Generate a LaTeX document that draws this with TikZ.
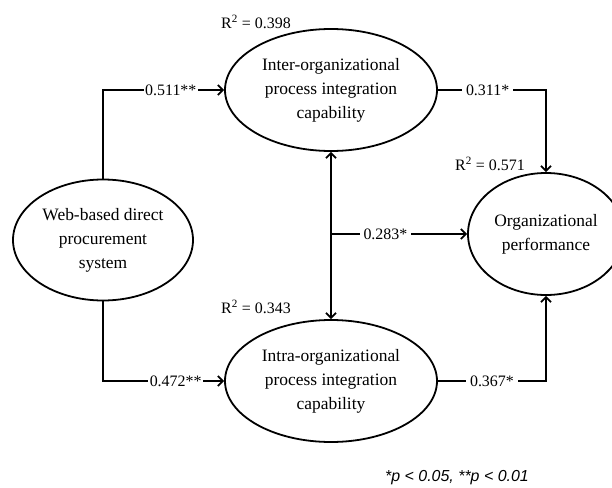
\documentclass[tikz,border=0pt]{standalone}
\usepackage{fontspec}
\setmainfont{Liberation Serif}
\newfontfamily\notefont{Liberation Sans}
\usetikzlibrary{shapes.geometric,arrows.meta}
\tikzset{
  construct/.style={draw, ellipse, line width=1.8bp, inner sep=0pt, align=center,
    font=\fontsize{17.5}{24}\selectfont},
  link/.style={line width=1.8bp, -{Straight Barb[length=5bp,width=10bp]}},
  coef/.style={fill=white, inner sep=4bp, font=\fontsize{16}{19}\selectfont},
  rsq/.style={font=\fontsize{16}{19}\selectfont}
}

\begin{document}
\begin{tikzpicture}[x=10bp,y=10bp]
    \useasboundingbox (0,0) rectangle (61.2,-48.8);
    \node[construct, minimum width=180bp, minimum height=121bp] (web) at (10.3,-24.0) {Web-based direct\\procurement\\system} ;
    \node[construct, minimum width=212bp, minimum height=122bp] (inter) at (33.1,-9.0) {Inter-organizational\\process integration\\capability} ;
    \node[construct, minimum width=212bp, minimum height=122bp] (intra) at (33.1,-38.1) {Intra-organizational\\process integration\\capability} ;
    \node[construct, minimum width=156bp, minimum height=122bp] (perf) at (54.6,-23.4) {Organizational\\performance} ;
    \node[rsq] (r2inter) at (25.6,-2.2) {R\textsuperscript{2} = 0.398} ;
    \node[rsq] (r2perf) at (49.0,-16.4) {R\textsuperscript{2} = 0.571} ;
    \node[rsq] (r2intra) at (25.6,-30.7) {R\textsuperscript{2} = 0.343} ;
    \coordinate (split) at (33.1,-23.4) ;
    \draw[link] (web.north) |- node[coef, inner sep=1.5bp, pos=0.78] {0.511**} (inter.west) ;
    \draw[link] (web.south) |- node[coef, inner sep=1.5bp, pos=0.8] {0.472**} (intra.west) ;
    \draw[link] (inter.east) -| node[coef, pos=0.23] {0.311*} (perf.north) ;
    \draw[link] (intra.east) -| node[coef, pos=0.25] {0.367*} (perf.south) ;
    \draw[link, {Straight Barb[length=5bp,width=10bp]}-{Straight Barb[length=5bp,width=10bp]}] (inter.south) -- (intra.north) ;
    \draw[link] (split) -- node[coef, pos=0.4] {0.283*} (perf.west) ;
    \node[font=\notefont\itshape\fontsize{16}{19}\selectfont] (note) at (45.7,-47.8) {*p < 0.05, **p < 0.01} ;
  \end{tikzpicture}
\end{document}
